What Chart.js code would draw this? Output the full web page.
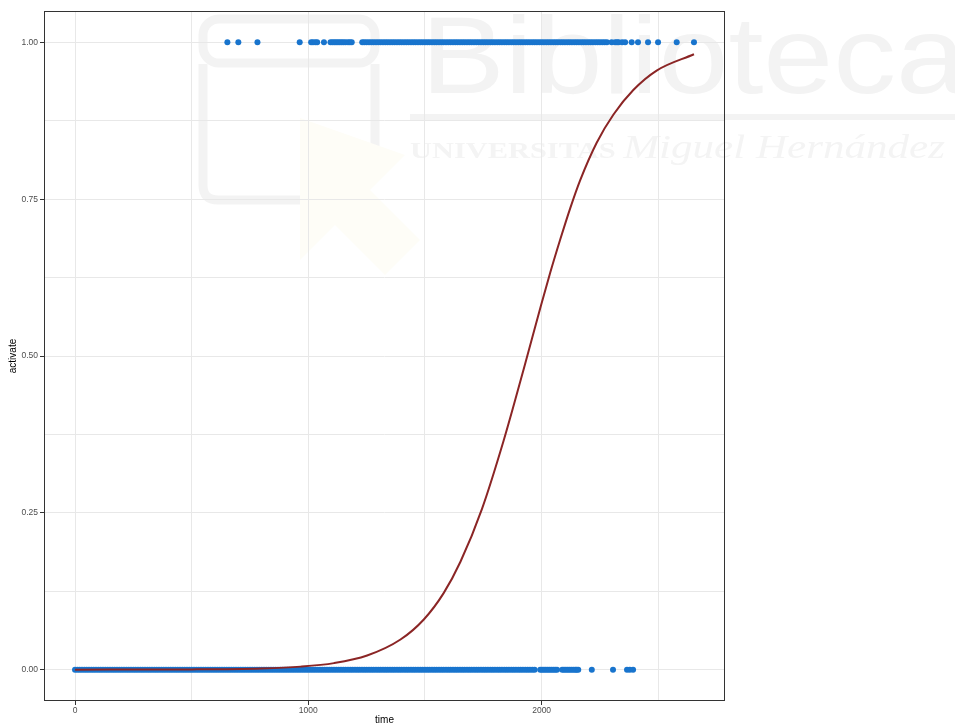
<!DOCTYPE html>
<html>
<head>
<meta charset="utf-8">
<script src="https://cdn.jsdelivr.net/npm/chart.js@4/dist/chart.umd.min.js"></script>
<style>
  body { margin: 0; background: #fff; }
  canvas { display: block; }
</style>
</head>
<body>
<canvas id="logitChart" width="955" height="726"></canvas>
<script>
// observations with activate = 0 (dense run from 0 to ~1970, then sparse tail)
const zeroTimes = [
  0, 10, 20, 30, 40, 50, 60, 70, 80, 90, 100, 110, 120, 130, 140, 150, 160, 170, 180, 190,
  200, 210, 220, 230, 240, 250, 260, 270, 280, 290, 300, 310, 320, 330, 340, 350, 360, 370, 380, 390,
  400, 410, 420, 430, 440, 450, 460, 470, 480, 490, 500, 510, 520, 530, 540, 550, 560, 570, 580, 590,
  600, 610, 620, 630, 640, 650, 660, 670, 680, 690, 700, 710, 720, 730, 740, 750, 760, 770, 780, 790,
  800, 810, 820, 830, 840, 850, 860, 870, 880, 890, 900, 910, 920, 930, 940, 950, 960, 970, 980, 990,
  1000, 1010, 1020, 1030, 1040, 1050, 1060, 1070, 1080, 1090, 1100, 1110, 1120, 1130, 1140, 1150, 1160, 1170, 1180, 1190,
  1200, 1210, 1220, 1230, 1240, 1250, 1260, 1270, 1280, 1290, 1300, 1310, 1320, 1330, 1340, 1350, 1360, 1370, 1380, 1390,
  1400, 1410, 1420, 1430, 1440, 1450, 1460, 1470, 1480, 1490, 1500, 1510, 1520, 1530, 1540, 1550, 1560, 1570, 1580, 1590,
  1600, 1610, 1620, 1630, 1640, 1650, 1660, 1670, 1680, 1690, 1700, 1710, 1720, 1730, 1740, 1750, 1760, 1770, 1780, 1790,
  1800, 1810, 1820, 1830, 1840, 1850, 1860, 1870, 1880, 1890, 1900, 1910, 1920, 1930, 1940, 1950, 1960, 1970,
  1994, 2002, 2010, 2018, 2026, 2034, 2042, 2050, 2058, 2066, 2088, 2096, 2104, 2112, 2120, 2128, 2136, 2144, 2150, 2157,
  2215, 2306, 2366, 2378, 2392
];
// observations with activate = 1
const oneTimes = [
  653, 700, 782, 963, 1012, 1020, 1030, 1038, 1067, 1095, 1103, 1111, 1119, 1127, 1135, 1143, 1151, 1160, 1170, 1178, 1186,
  1231, 1240, 1250, 1260, 1270, 1280, 1290, 1300, 1310, 1320, 1330, 1340, 1350, 1360, 1370, 1380, 1390,
  1400, 1410, 1420, 1430, 1440, 1450, 1460, 1470, 1480, 1490, 1500, 1510, 1520, 1530, 1540, 1550, 1560, 1570, 1580, 1590,
  1600, 1610, 1620, 1630, 1640, 1650, 1660, 1670, 1680, 1690, 1700, 1710, 1720, 1730, 1740, 1750, 1760, 1770, 1780, 1790,
  1800, 1810, 1820, 1830, 1840, 1850, 1860, 1870, 1880, 1890, 1900, 1910, 1920, 1930, 1940, 1950, 1960, 1970, 1980, 1990,
  2000, 2010, 2020, 2030, 2040, 2050, 2060, 2070, 2080, 2090, 2100, 2110, 2120, 2130, 2140, 2150, 2160, 2170, 2180, 2190,
  2200, 2210, 2220, 2230, 2240, 2250, 2260, 2270, 2280,
  2300, 2315, 2323, 2330, 2345, 2358, 2386, 2413, 2456, 2499, 2579, 2653
];
// fitted logistic curve
const curveTimes = [0, 500, 800, 967, 1110, 1252, 1395, 1495, 1580, 1652, 1744, 1837, 1923, 1994, 2037, 2080, 2122, 2165, 2236, 2308, 2393, 2493, 2653];
const curveProb  = [0.0000, 0.0004, 0.0019, 0.0048, 0.0104, 0.0225, 0.048, 0.080, 0.122, 0.172, 0.256, 0.365, 0.479, 0.576, 0.633, 0.686, 0.735, 0.780, 0.840, 0.885, 0.924, 0.955, 0.981];

const xTicks = [0, 500, 1000, 1500, 2000, 2500];
const xLabelled = [0, 1000, 2000];
const yTicks = [0, 0.125, 0.25, 0.375, 0.5, 0.625, 0.75, 0.875, 1];
const yLabelled = [0, 0.25, 0.5, 0.75, 1];

const tickFont = { family: 'Liberation Sans, Arial, sans-serif', size: 8.5 };
const titleFont = { family: 'Liberation Sans, Arial, sans-serif', size: 10 };

// faint library watermark behind the panel
const watermark = {
  id: 'watermark',
  beforeDraw(chart) {
    const ctx = chart.ctx;
    ctx.save();
    ctx.fillStyle = '#fff';
    ctx.fillRect(0, 0, chart.width, chart.height);

    // logo
    ctx.strokeStyle = '#f3f3f3';
    ctx.lineWidth = 9;
    ctx.beginPath();
    ctx.roundRect(203, 19, 172, 44, 16);
    ctx.stroke();
    ctx.beginPath();
    ctx.moveTo(375, 64); ctx.lineTo(375, 150);
    ctx.moveTo(203, 64); ctx.lineTo(203, 185);
    ctx.quadraticCurveTo(203, 200, 218, 200);
    ctx.lineTo(302, 200);
    ctx.stroke();
    ctx.fillStyle = '#fefdf7';
    ctx.beginPath();
    ctx.moveTo(300, 118); ctx.lineTo(300, 260); ctx.lineTo(335, 225);
    ctx.lineTo(385, 275); ctx.lineTo(420, 240); ctx.lineTo(370, 190);
    ctx.lineTo(405, 155); ctx.closePath();
    ctx.fill();

    // Biblioteca
    ctx.fillStyle = '#f3f3f3';
    ctx.font = '110px "Liberation Sans", Arial, sans-serif';
    ctx.textBaseline = 'alphabetic';
    const w = ctx.measureText('Biblioteca').width;
    ctx.save();
    ctx.translate(421, 93);
    ctx.scale(545 / w, 1);
    ctx.fillText('Biblioteca', 0, 0);
    ctx.restore();
    ctx.fillRect(410, 114, 545, 6);

    ctx.fillStyle = '#f4f4f4';
    ctx.font = 'bold 24px "Liberation Serif", serif';
    const uni = 'UNIVERSITAS ';
    const uw = ctx.measureText(uni).width;
    ctx.font = 'italic 34px "Liberation Serif", serif';
    const mh = 'Miguel Hernández';
    const mw = ctx.measureText(mh).width;
    ctx.save();
    ctx.translate(410, 158);
    ctx.scale(535 / (uw + mw), 1);
    ctx.font = 'bold 24px "Liberation Serif", serif';
    ctx.fillText(uni, 0, 0);
    ctx.font = 'italic 34px "Liberation Serif", serif';
    ctx.fillText(mh, uw, 0);
    ctx.restore();
    ctx.restore();
  },
  afterDraw(chart) {
    const a = chart.chartArea;
    const ctx = chart.ctx;
    ctx.save();
    ctx.strokeStyle = '#333';
    ctx.lineWidth = 1;
    ctx.strokeRect(a.left + 0.5, a.top + 0.5, a.right - a.left - 1, a.bottom - a.top - 1);
    ctx.restore();
  }
};

const ctx = document.getElementById('logitChart').getContext('2d');
new Chart(ctx, {
  type: 'scatter',
  data: {
    datasets: [
      {
        label: 'fit',
        data: curveTimes.map((t, i) => ({ x: t, y: curveProb[i] })),
        showLine: true,
        borderColor: '#8b2525',
        borderWidth: 2,
        pointRadius: 0,
        cubicInterpolationMode: 'monotone'
      },
      {
        label: 'activate = 1',
        data: oneTimes.map(t => ({ x: t, y: 1 })),
        backgroundColor: '#1874cd',
        borderWidth: 0,
        pointRadius: 3
      },
      {
        label: 'activate = 0',
        data: zeroTimes.map(t => ({ x: t, y: 0 })),
        backgroundColor: '#1874cd',
        borderWidth: 0,
        pointRadius: 3
      }
    ]
  },
  options: {
    responsive: false,
    animation: false,
    layout: { padding: { left: 0, right: 230, top: 11, bottom: 0 } },
    plugins: { legend: { display: false }, tooltip: { enabled: false } },
    scales: {
      x: {
        type: 'linear',
        min: -133,
        max: 2786,
        afterBuildTicks: s => { s.ticks = xTicks.map(v => ({ value: v })); },
        afterFit: s => { s.height = 25; },
        grid: {
          color: '#e8e8e8',
          tickLength: 4,
          tickColor: c => xLabelled.includes(c.tick.value) ? '#333' : 'rgba(0,0,0,0)'
        },
        border: { display: false },
        ticks: {
          font: tickFont,
          color: '#4d4d4d',
          padding: 1,
          maxRotation: 0,
          callback: v => xLabelled.includes(v) ? String(v) : ''
        },
        title: { display: true, text: 'time', font: titleFont, color: '#000', padding: 0 }
      },
      y: {
        type: 'linear',
        min: -0.05,
        max: 1.05,
        afterBuildTicks: s => { s.ticks = yTicks.map(v => ({ value: v })); },
        afterFit: s => { s.width = 44; },
        grid: {
          color: '#e8e8e8',
          tickLength: 4,
          tickColor: c => yLabelled.includes(c.tick.value) ? '#333' : 'rgba(0,0,0,0)'
        },
        border: { display: false },
        ticks: {
          font: tickFont,
          color: '#4d4d4d',
          padding: 2,
          callback: v => yLabelled.includes(v) ? v.toFixed(2) : ''
        },
        title: { display: true, text: 'activate', font: titleFont, color: '#000', padding: { top: 7, bottom: 0 } }
      }
    }
  },
  plugins: [watermark]
});
</script>
</body>
</html>
